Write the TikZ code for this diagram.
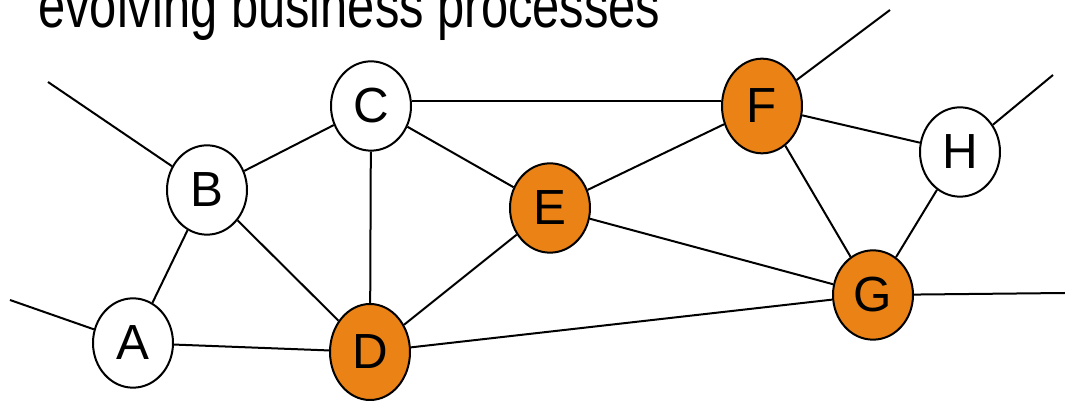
\documentclass[tikz,border=0pt]{standalone}
\usepackage{fontspec}
\setmainfont{Liberation Sans}
\newfontfamily\titlefont[FakeStretch=0.78]{Liberation Sans}
\usetikzlibrary{shapes.geometric}
\definecolor{procorange}{HTML}{EA8216}
\tikzset{
  proc/.style={ellipse, draw, line width=1.5pt, fill=white, minimum width=60pt, minimum height=67pt, inner sep=0pt, font=\fontsize{37}{37}\selectfont},
  changed/.style={proc, fill=procorange},
  link/.style={line width=1.5pt}
}
\begin{document}
\begin{tikzpicture}[x=0.75pt, y=-0.75pt]
  \useasboundingbox (0,0) rectangle (1065,402);
  \node[anchor=base west, inner sep=0pt, font=\titlefont\fontsize{47}{47}\selectfont] (title) at (38,28) {evolving business processes};
  \node[proc] (A) at (133,343) {A};
  \node[proc] (B) at (207,190) {B};
  \node[proc] (C) at (371,106) {C};
  \node[changed, minimum height=72pt] (D) at (370,352) {D};
  \node[changed] (E) at (550,208) {E};
  \node[changed, minimum height=71pt] (F) at (762,106) {F};
  \node[proc] (H) at (960,152) {H};
  \node[changed] (G) at (873,295) {G};
  \coordinate (a0) at (10,300);
  \coordinate (b0) at (48,82);
  \coordinate (f0) at (890,10);
  \coordinate (h0) at (1053,75);
  \coordinate (g0) at (1065,293);
  \draw[link] (a0) -- (A);
  \draw[link] (b0) -- (B);
  \draw[link] (A) -- (B);
  \draw[link] (A) -- (D);
  \draw[link] (B) -- (C);
  \draw[link] (B) -- (D);
  \draw[link] (C.east |- 0,101) -- (F.west |- 0,101);
  \draw[link] (C) -- (E);
  \draw[link] (C) -- (D);
  \draw[link] (D) -- (E);
  \draw[link] (D) -- (G);
  \draw[link] (E) -- (F);
  \draw[link] (E) -- (G);
  \draw[link] (F) -- (H);
  \draw[link] (F) -- (G);
  \draw[link] (H) -- (G);
  \draw[link] (f0) -- (F);
  \draw[link] (h0) -- (H);
  \draw[link] (g0) -- (G);
\end{tikzpicture}
\end{document}
